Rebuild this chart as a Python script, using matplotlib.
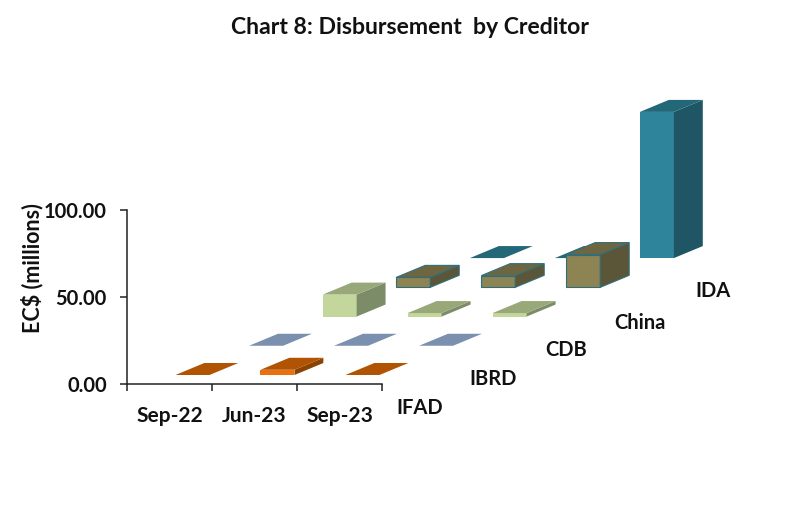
import matplotlib
matplotlib.use("Agg")
import matplotlib.pyplot as plt

plt.rcParams['font.family'] = ['Lato', 'DejaVu Sans']

categories = ["Sep-22", "Jun-23", "Sep-23"]
creditors = ["IFAD", "IBRD", "CDB", "China", "IDA"]
ifad = [0.0, 3.0, 0.0]
ibrd = [0.0, 0.0, 0.0]
cdb = [12.6, 2.0, 2.0]
china = [5.7, 6.7, 18.8]
ida = [0.0, 0.0, 84.0]
y_ticks = [0, 50, 100]
y_labels = ["0.00", "50.00", "100.00"]

series = [ifad, ibrd, cdb, china, ida]
front = ["#E8700F", "#94A9C8", "#C3D69B", "#8E8352", "#2E849B"]
top = ["#B05404", "#7A90AE", "#98A878", "#6E6640", "#236878"]
side = ["#8A4303", "#66788F", "#7D8C68", "#5B5638", "#1F5564"]
edge = [None, None, None, "#2F6F7C", None]

W, H = 801, 508
fig = plt.figure(figsize=(W / 100, H / 100), dpi=100, facecolor="white")
ax = fig.add_axes([127 / W, 1 - 384 / H, 255 / W, 174 / H])
ax.set_xlim(0, 3)
ax.set_ylim(0, 100)
ax.patch.set_alpha(0)
for s in ("top", "right"):
    ax.spines[s].set_visible(False)
for s in ("left", "bottom"):
    ax.spines[s].set_linewidth(1.1)
    ax.spines[s].set_color("#222222")

# oblique layout, in data units of the axes (85 px per category, 1.74 px per unit)
START_X, START_Y = 0.570, 5.17
STEP_X, STEP_Y = 0.866, 16.8
BAR_W = 0.40
DEPTH_X, DEPTH_Y = 0.34, 6.9
LABEL_DROP = [0.0, 0.0, 0.0, 1.7, 0.0]


def draw_bar(c, s, v):
    x = c + START_X + s * STEP_X
    y = START_Y + s * STEP_Y
    kw = dict(clip_on=False, zorder=100 - s * 10 + c)
    e = edge[s]
    lw = 0.8 if e else 0
    ec = e if e else "none"
    if v > 0:
        ax.fill([x, x + BAR_W, x + BAR_W, x], [y, y, y + v, y + v],
                fc=front[s], ec=ec, lw=lw, **kw)
        ax.fill([x + BAR_W, x + BAR_W + DEPTH_X, x + BAR_W + DEPTH_X, x + BAR_W],
                [y, y + DEPTH_Y, y + v + DEPTH_Y, y + v],
                fc=side[s], ec=ec, lw=lw, **kw)
    ax.fill([x, x + BAR_W, x + BAR_W + DEPTH_X, x + DEPTH_X],
            [y + v, y + v, y + v + DEPTH_Y, y + v + DEPTH_Y],
            fc=top[s], ec=ec, lw=lw, **kw)


for s in range(len(series) - 1, -1, -1):
    for c, v in enumerate(series[s]):
        draw_bar(c, s, v)

ax.set_yticks(y_ticks, y_labels, fontsize=14.5, fontweight="bold", color="#111111")
ax.tick_params(axis="y", length=5, width=1.1, color="#222222", pad=9.5)
ax.set_xticks([0, 1, 2, 3], ["", "", "", ""])
ax.tick_params(axis="x", which="major", length=5, width=1.1, color="#222222")
ax.set_xticks([0.5, 1.5, 2.5], categories, minor=True, fontsize=15,
              fontweight="bold", color="#111111")
ax.tick_params(axis="x", which="minor", length=0, pad=15.5)

for s, name in enumerate(creditors):
    ax.text(3 + 0.447 + s * 0.862, -14.0 + s * 16.9 - LABEL_DROP[s], name,
            ha="center", va="center", fontsize=14.5, fontweight="bold",
            color="#111111", clip_on=False)

fig.text(32 / W, 1 - 268 / H, "EC$ (millions)", rotation=90, ha="center", va="center",
         fontsize=15.5, fontweight="bold", color="#111111")
fig.text(410 / W, 1 - 28 / H, "Chart 8: Disbursement  by Creditor", ha="center", va="center",
         fontsize=16.6, fontweight="bold", color="#111111")

fig.savefig("out.png", dpi=100, facecolor="white")
